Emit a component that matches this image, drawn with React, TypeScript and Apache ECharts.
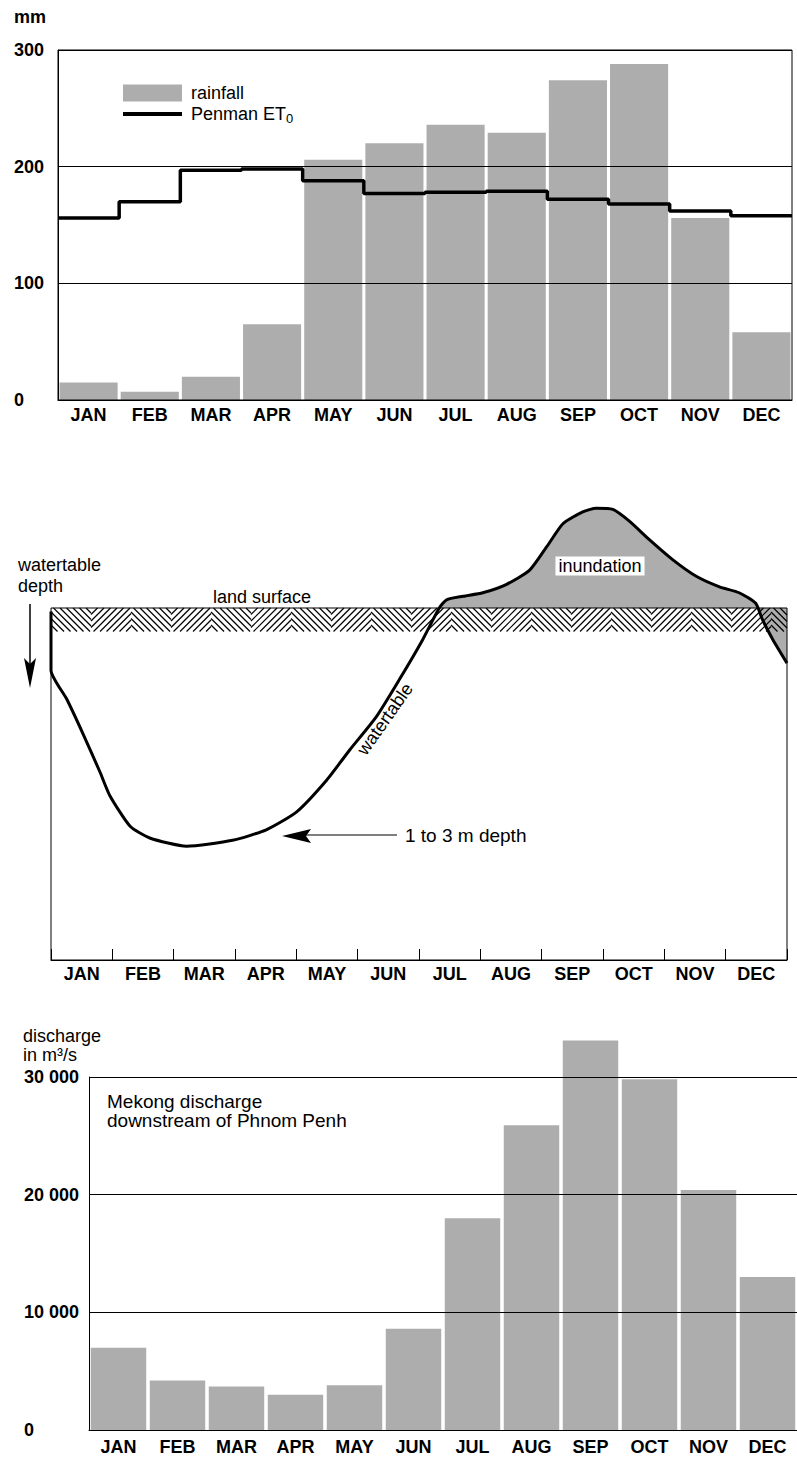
import React, { useEffect, useRef } from "react";
import * as echarts from "echarts";

// ---------- data ----------
const months = ["JAN", "FEB", "MAR", "APR", "MAY", "JUN", "JUL", "AUG", "SEP", "OCT", "NOV", "DEC"];

// top chart (mm)
const rainfall = [15, 7, 20, 65, 206, 220, 236, 229, 274, 288, 156, 58];
const penmanET0 = [156, 170, 197, 198, 188, 177, 178, 179, 172, 168, 162, 158];

// middle chart: watertable level relative to land surface (month position, level)
const watertableMonth = [0, 0, 0.26, 0.52, 0.8, 0.96, 1.29, 1.61, 2.21, 2.96, 3.51, 4.0, 4.49, 4.87, 5.3, 5.68, 6.06, 6.33, 6.45, 6.72, 7.04, 7.42, 7.8, 8.08, 8.35, 8.67, 8.89, 9.16, 9.43, 9.76, 10.14, 10.52, 10.9, 11.22, 11.49, 11.6, 11.77, 12];
const watertableLevel = [-0.03, -0.53, -0.78, -1.07, -1.4, -1.6, -1.86, -1.96, -2.03, -1.98, -1.89, -1.74, -1.47, -1.21, -0.93, -0.61, -0.27, 0, 0.07, 0.1, 0.13, 0.2, 0.32, 0.52, 0.72, 0.82, 0.85, 0.84, 0.74, 0.58, 0.41, 0.27, 0.18, 0.13, 0.04, -0.1, -0.27, -0.47];
const landSurfaceBand = [0, -0.2];

// bottom chart (m3/s)
const discharge = [7000, 4200, 3700, 3000, 3800, 8600, 18000, 25900, 33100, 29800, 20400, 13000];

// ---------- styles ----------
const FONT = "'Liberation Sans', Arial, Helvetica, sans-serif";
const BAR = "rgba(0,0,0,0.32)";
const BLACK = "#000";

function buildOption() {
  const stepData: number[][] = [];
  penmanET0.forEach((v, i) => {
    stepData.push([i, v]);
    stepData.push([i + 1, v]);
  });
  const wt = watertableMonth.map((m, i) => [m, watertableLevel[i]]);
  const startInund = watertableLevel.findIndex((v, i) => v >= 0 && watertableMonth[i] > 6);
  const inund = wt.slice(startInund);

  const axisLabel = { fontSize: 18, color: BLACK, fontFamily: FONT, fontWeight: "bold" };
  const axisLine = { show: true, onZero: false, lineStyle: { color: BLACK, width: 1 } };

  return {
    animation: false,
    backgroundColor: "#fff",
    textStyle: { fontFamily: FONT, color: BLACK },
    grid: [
      { left: 58, right: 5, top: 50, bottom: 1060, show: true, borderColor: BLACK, borderWidth: 1 },
      { left: 51, right: 10, top: 608, bottom: 500, show: true, borderColor: BLACK, borderWidth: 1 },
      { left: 51, right: 10, top: 432, bottom: 500 },
      { left: 89, right: 0, top: 1077, bottom: 30 },
    ],
    xAxis: [
      { type: "category", gridIndex: 0, data: months, axisTick: { show: false }, axisLine, axisLabel: { ...axisLabel, margin: 6 } },
      {
        type: "category", gridIndex: 1, data: months, position: "bottom",
        axisTick: { show: true, inside: true, length: 11, lineStyle: { color: BLACK } },
        axisLine, axisLabel: { ...axisLabel, margin: 5 },
      },
      { type: "value", gridIndex: 2, min: 0, max: 12, show: false },
      { type: "category", gridIndex: 3, data: months, axisTick: { show: false }, axisLine, axisLabel: { ...axisLabel, margin: 8 } },
      { type: "value", gridIndex: 0, min: 0, max: 12, show: false },
    ],
    yAxis: [
      {
        type: "value", gridIndex: 0, min: 0, max: 300, interval: 100,
        axisLine, axisTick: { show: false },
        splitLine: { show: true, lineStyle: { color: BLACK, width: 1 } },
        axisLabel: { ...axisLabel, align: "left", margin: 44 },
      },
      { type: "value", gridIndex: 1, min: -3, max: 0, show: false, splitLine: { show: false } },
      { type: "value", gridIndex: 2, min: -3, max: 1.5, show: false, splitLine: { show: false } },
      {
        type: "value", gridIndex: 3, min: 0, max: 30000, interval: 10000,
        axisLine, axisTick: { show: false },
        splitLine: { show: true, lineStyle: { color: BLACK, width: 1 } },
        axisLabel: {
          ...axisLabel, align: "left", margin: 65,
          formatter: (v: number) => (v === 0 ? "0" : `${v / 1000} 000`),
        },
      },
    ],
    legend: {
      data: [
        { name: "rainfall", icon: "rect" },
        { name: "Penman ET0", icon: "path://M0 0H100V7H0Z" },
      ],
      left: 118, top: 79, orient: "vertical",
      itemWidth: 59, itemHeight: 17, itemGap: 3,
      selectedMode: false,
      textStyle: {
        fontSize: 18, color: BLACK, fontFamily: FONT, padding: [0, 0, 0, 4],
        rich: { sub: { fontSize: 13, fontFamily: FONT, color: BLACK, padding: [9, 0, 0, 0] } },
      },
      formatter: (name: string) => (name === "Penman ET0" ? "Penman ET{sub|0}" : name),
    },
    series: [
      {
        name: "rainfall", type: "bar", xAxisIndex: 0, yAxisIndex: 0,
        data: rainfall, barCategoryGap: "5%", itemStyle: { color: BAR },
      },
      {
        name: "Penman ET0", type: "line", xAxisIndex: 4, yAxisIndex: 0,
        data: stepData, symbol: "none", showSymbol: false, lineStyle: { color: BLACK, width: 3.5 },
        itemStyle: { color: BLACK }, z: 5,
      },
      {
        name: "land surface", type: "custom", xAxisIndex: 2, yAxisIndex: 2,
        data: [[0, landSurfaceBand[0]]],
        renderItem: (params: any, api: any) => {
          const p0 = api.coord([0, landSurfaceBand[0]]);
          const p1 = api.coord([12, landSurfaceBand[1]]);
          const x0 = p0[0], y0 = p0[1], x1 = p1[0], y1 = p1[1];
          const h = y1 - y0;
          const block = 40, step = 6.5;
          const children: any[] = [];
          let k = 0;
          for (let bx = x0; bx < x1; bx += block, k++) {
            const bEnd = Math.min(bx + block, x1);
            const back = k % 2 === 0;
            for (let s = bx - h; s < bEnd; s += step) {
              const ca = Math.max(s, bx);
              const cb = Math.min(s + h, bEnd);
              if (cb - ca < 0.5) continue;
              const ya = back ? y0 + (ca - s) : y1 - (ca - s);
              const yb = back ? y0 + (cb - s) : y1 - (cb - s);
              children.push({
                type: "line",
                shape: { x1: ca, y1: ya, x2: cb, y2: yb },
                style: { stroke: BLACK, lineWidth: 1.2 },
              });
            }
          }
          return { type: "group", children };
        },
        z: 1,
      },
      {
        name: "inundation", type: "line", xAxisIndex: 2, yAxisIndex: 2,
        data: inund, symbol: "none", smooth: 0.2,
        lineStyle: { width: 0 }, areaStyle: { origin: 0, color: BAR, opacity: 1 },
        z: 2,
      },
      {
        name: "watertable", type: "line", xAxisIndex: 2, yAxisIndex: 2,
        data: wt, symbol: "none", smooth: 0.2,
        lineStyle: { color: BLACK, width: 3 }, z: 3,
      },
      {
        name: "discharge", type: "bar", xAxisIndex: 3, yAxisIndex: 3,
        data: discharge, barCategoryGap: "6%", clip: false, itemStyle: { color: BAR },
      },
    ],
    graphic: [
      { type: "text", x: 14, y: 17, style: { text: "mm", fontSize: 18, fontWeight: "bold", fontFamily: FONT, fill: BLACK, verticalAlign: "middle" } },
      { type: "text", x: 18, y: 554, style: { text: "watertable\ndepth", fontSize: 18, lineHeight: 21, fontFamily: FONT, fill: BLACK, verticalAlign: "top" } },
      { type: "line", shape: { x1: 30, y1: 604, x2: 30, y2: 664 }, style: { stroke: BLACK, lineWidth: 1.5 } },
      { type: "polygon", shape: { points: [[24, 658], [30, 664], [36, 658], [30, 688]] }, style: { fill: BLACK } },
      { type: "text", x: 262, y: 597, style: { text: "land surface", fontSize: 18, fontFamily: FONT, fill: BLACK, align: "center", verticalAlign: "middle" } },
      {
        type: "text", x: 600, y: 566, z: 10,
        style: { text: "inundation", fontSize: 18, fontFamily: FONT, fill: BLACK, align: "center", verticalAlign: "middle", backgroundColor: "#fff", padding: [1, 3, 0, 3] },
      },
      {
        type: "text", x: 385, y: 719, rotation: (55 * Math.PI) / 180,
        style: { text: "watertable", fontSize: 18, fontFamily: FONT, fill: BLACK, align: "center", verticalAlign: "middle" },
      },
      { type: "line", shape: { x1: 306, y1: 835, x2: 397, y2: 835 }, style: { stroke: BLACK, lineWidth: 1.2 } },
      { type: "polygon", shape: { points: [[282, 836], [311, 829], [306, 836], [311, 843]] }, style: { fill: BLACK } },
      { type: "text", x: 405, y: 835, style: { text: "1 to 3 m depth", fontSize: 19, fontFamily: FONT, fill: BLACK, verticalAlign: "middle" } },
      {
        type: "text", x: 23, y: 1026,
        style: { text: "discharge\nin m³/s", fontSize: 18, lineHeight: 19, fontFamily: FONT, fill: BLACK, verticalAlign: "top" },
      },
      {
        type: "text", x: 107, y: 1092,
        style: { text: "Mekong discharge\ndownstream of Phnom Penh", fontSize: 19, lineHeight: 19, fontFamily: FONT, fill: BLACK, verticalAlign: "top" },
      },
    ],
  };
}

export default function App() {
  const ref = useRef<HTMLDivElement>(null);
  useEffect(() => {
    if (!ref.current) return;
    const chart = echarts.init(ref.current, undefined, { renderer: "svg" });
    chart.setOption(buildOption() as any);
    return () => chart.dispose();
  }, []);
  return <div ref={ref} style={{ position: "fixed", left: 0, top: 0, width: 797, height: 1460 }} />;
}
